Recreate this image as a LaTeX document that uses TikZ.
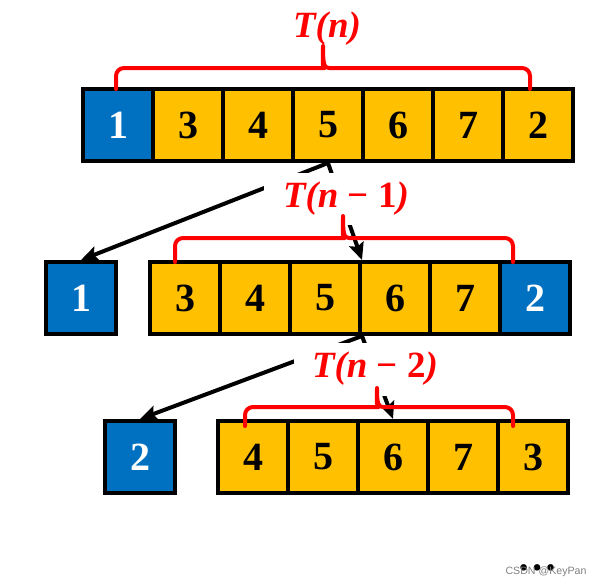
\documentclass[tikz,border=0pt]{standalone}
\usepackage{fontspec}
\setmainfont{Liberation Serif}
\newfontfamily\wmfont{Liberation Sans}
\usetikzlibrary{arrows.meta}
\definecolor{cblue}{HTML}{0070C0}
\definecolor{cgold}{HTML}{FFC000}
\definecolor{cred}{HTML}{FF0000}
\begin{document}
\begin{tikzpicture}[x=1pt,y=-1pt,
  cell/.style={draw=black, line width=4pt, minimum width=70pt, minimum height=72pt, inner sep=0pt, font=\fontsize{40}{40}\selectfont\bfseries},
  yc/.style={cell, fill=cgold, text=black},
  bc/.style={cell, fill=cblue, text=white},
  arr/.style={draw=black, line width=4pt, -{Stealth[length=17pt,width=15pt,inset=3pt]}},
  lbl/.style={text=cred, inner sep=0pt, font=\fontsize{37}{37}\selectfont\bfseries},
  occ/.style={lbl, fill=white},
  brc/.style={draw=cred, line width=4pt, line cap=round, line join=round}]
\useasboundingbox (0,0) rectangle (602,587);
% row 1
\node[bc] (r1a) at (118,125) {1};
\node[yc] (r1b) at (188,125) {3};
\node[yc] (r1c) at (258,125) {4};
\node[yc] (r1d) at (328,125) {5};
\node[yc] (r1e) at (398,125) {6};
\node[yc] (r1f) at (468,125) {7};
\node[yc] (r1g) at (538,125) {2};
% row 2
\node[bc] (b2) at (81,298) {1};
\node[yc] (r2a) at (185,298) {3};
\node[yc] (r2b) at (255,298) {4};
\node[yc] (r2c) at (325,298) {5};
\node[yc] (r2d) at (395,298) {6};
\node[yc] (r2e) at (465,298) {7};
\node[bc] (r2f) at (535,298) {2};
% row 3
\node[bc] (b3) at (140,457) {2};
\node[yc] (r3a) at (253,457) {4};
\node[yc] (r3b) at (323,457) {5};
\node[yc] (r3c) at (393,457) {6};
\node[yc] (r3d) at (463,457) {7};
\node[yc] (r3e) at (533,457) {3};
% arrows
\draw[arr] (r1d.south) -- (b2.north);
\draw[arr] (r1d.south) -- (r2c.north east);
\draw[arr] (r2c.south east) -- (b3.north);
\draw[arr] (r2c.south east) -- (r3c.north);
% labels
\node[lbl] (t1) at (327,29) {{\itshape T(n)}};
\node[occ, minimum width=164pt, minimum height=52pt] (t2) at (346,199) {{\itshape T(n} − 1{\itshape )}};
\node[occ, minimum width=162pt, minimum height=53pt] (t3) at (375,369) {{\itshape T(n} − 2{\itshape )}};
% braces
\draw[brc] (116,89) [rounded corners=8pt] |- (317,68) [sharp corners] .. controls (322,68) and (323,64) .. (323,46) .. controls (323,64) and (324,68) .. (329,68) [rounded corners=8pt] -| (530,89);
\draw[brc] (175,262) [rounded corners=8pt] |- (337,238) [sharp corners] .. controls (342,238) and (343,234) .. (343,216) .. controls (343,234) and (344,238) .. (349,238) [rounded corners=8pt] -| (513,262);
\draw[brc] (245,426) [rounded corners=8pt] |- (371,407) [sharp corners] .. controls (376,407) and (377,403) .. (377,388) .. controls (377,403) and (378,407) .. (383,407) [rounded corners=8pt] -| (513,426);
% trailing dots and watermark
\node[font=\fontsize{40}{40}\selectfont\bfseries, anchor=base, inner sep=0pt] (dots) at (537,570) {…};
\node[font=\wmfont\fontsize{10.6}{12}\selectfont, text=gray, inner sep=0pt] (wm) at (546,572) {CSDN @KeyPan};
\end{tikzpicture}
\end{document}
